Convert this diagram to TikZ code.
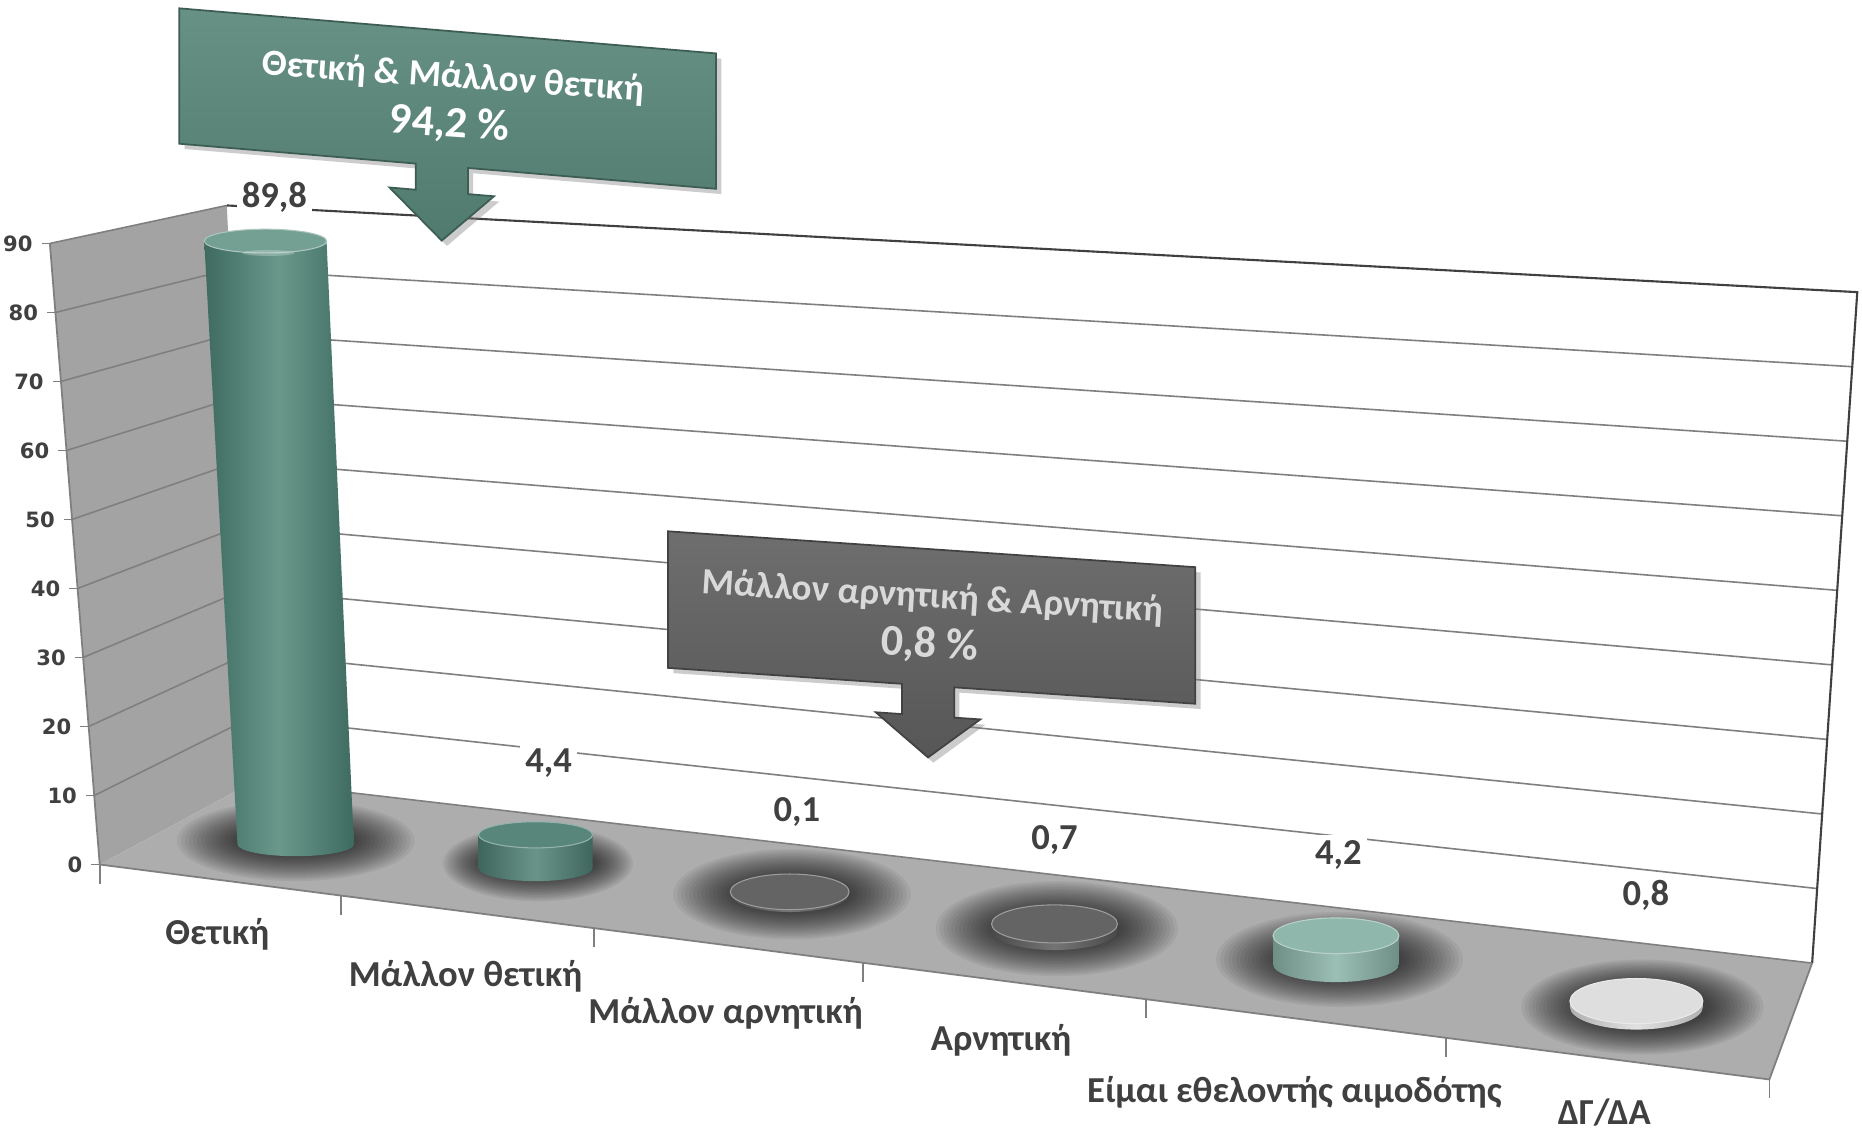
\documentclass[tikz,border=0pt]{standalone}
\usepackage{fontspec}
\setmainfont{Carlito}
\newfontfamily\axisfont{DejaVu Sans}
\usepackage{tikz}
\usetikzlibrary{calc,shadows}

\definecolor{tealmain}{HTML}{4F8074}
\definecolor{tealdark}{HTML}{3E6A5F}
\definecolor{teallight}{HTML}{6A998C}
\definecolor{tealtop}{HTML}{74A094}
\definecolor{mintmain}{HTML}{8AB3A8}
\definecolor{diskdark}{HTML}{5C5C5C}
\definecolor{disklight}{HTML}{DCDCDC}
\definecolor{wallgray}{HTML}{A3A3A3}
\definecolor{floorgray}{HTML}{ADADAD}
\definecolor{gridgray}{HTML}{7F7F7F}
\definecolor{labelgray}{HTML}{404040}
\definecolor{calloutteal}{HTML}{578578}
\definecolor{calloutgray}{HTML}{5E5E5E}
\definecolor{callouttext}{HTML}{D9D9D9}

\begin{document}
\begin{tikzpicture}[x=0.011875cm, y=-0.011875cm,
  gridln/.style={draw=gridgray, line width=0.45pt},
  axln/.style={draw=gridgray, line width=0.5pt},
  catlbl/.style={text=labelgray, font=\fontsize{10.4}{12}\selectfont\bfseries, inner sep=1pt},
  vallbl/.style={text=labelgray, font=\fontsize{10.4}{12}\selectfont\bfseries, fill=white, inner sep=1.5pt},
  axlbl/.style={text=labelgray, font=\axisfont\fontsize{6}{7}\selectfont\bfseries, anchor=east, inner sep=0pt},
  callbox/.style={line width=0.5pt, drop shadow={shadow xshift=1.5pt, shadow yshift=-1.5pt, opacity=0.4}},
  calltxt/.style={font=\fontsize{10.5}{11}\selectfont\bfseries, align=center, inner sep=0pt}]

\fill[white] (0,0) rectangle (1568,951);
\useasboundingbox (0,0) rectangle (1568,951);

% corners of the box
\coordinate (L0) at (84,728);
\coordinate (L9) at (42,205);
\coordinate (C0) at (214,658);
\coordinate (C9) at (191,173);
\coordinate (R0) at (1526,811);
\coordinate (R9) at (1564,246);
\coordinate (F6) at (1490,909);

% walls
\fill[wallgray] (L0) -- (L9) -- (C9) -- (C0) -- cycle;
\foreach \v in {10,20,...,80}
  \draw[gridln] ($(L0)!\v/90!(L9)$) -- ($(C0)!\v/90!(C9)$);
\draw[gridln] (L9) -- (C9);
\foreach \v in {10,20,...,80}
  \draw[gridln] ($(C0)!\v/90!(C9)$) -- ($(R0)!\v/90!(R9)$);
\draw[draw=labelgray, line width=0.6pt] (C9) -- (R9) -- (R0);

% floor and shadows
\fill[floorgray] (L0) -- (C0) -- (R0) -- (F6) -- cycle;
\draw[gridln] (C0) -- (R0);
\begin{scope}
  \clip (L0) -- (C0) -- (R0) -- (F6) -- cycle;
  \foreach \cx/\cy/\ox/\oy/\ix/\iy in {249/708/100/34/50/12, 453/727/80/32/48/12, 667/753/100/38/50/15, 890/782/102/40/53/16, 1128/808/104/40/53/16, 1383/848/102/40/56/19}
    \foreach \k in {0,...,15}
      \fill[black, opacity=0.055] (\cx,\cy) ellipse[x radius={\ix+(\ox-\ix)*\k/15}, y radius={\iy+(\oy-\iy)*\k/15}];
\end{scope}
\draw[axln] (L0) -- (F6) -- (R0);

% bars
\shade[left color=tealdark, right color=tealdark, middle color=teallight] (172,203) -- (200,711) arc[start angle=180, end angle=0, x radius=49, y radius=10] -- (275,203) -- cycle;
\fill[tealtop, draw=tealtop!60!white, line width=0.3pt] (223.5,203) ellipse[x radius=51.5, y radius=10];
\fill[white, opacity=0.25] (226,213) ellipse[x radius=22, y radius=2.5];
\foreach \cx/\ty/\by/\rx/\ry/\col in {451/703/731/48/11/tealmain, 665/751/753/50/15/diskdark, 888/778/784/53/16/diskdark, 1125/788/812/53/15/mintmain, 1378/843/848/56/19/disklight}
{
  \shade[left color=\col!80!black, right color=\col!80!black, middle color=\col!85!white]
    ({\cx-\rx},\ty) -- ({\cx-\rx},\by) arc[start angle=180, end angle=0, x radius=\rx, y radius=\ry] -- ({\cx+\rx},\ty) -- cycle;
  \fill[\col!95!white, draw=\col!60!white, line width=0.3pt] (\cx,\ty) ellipse[x radius=\rx, y radius=\ry];
}

% axes
\draw[axln] (L0) -- (L9);
\foreach \v in {0,10,...,90} {
  \draw[axln] ($(L0)!\v/90!(L9)$) -- ++(-7,0);
  \node[axlbl] (y\v) at ($(L0)!\v/90!(L9)+(-14,0)$) {\v};
}
\foreach \t in {0,0.1444,0.2959,0.4573,0.6266,0.8065,1}
  \draw[axln] ($(L0)!\t!(F6)$) -- ++(0,16);

\node[catlbl] (cat1) at (183,787) {Θετική};
\node[catlbl] (cat2) at (392,822) {Μάλλον θετική};
\node[catlbl] (cat3) at (611,853) {Μάλλον αρνητική};
\node[catlbl] (cat4) at (843,876) {Αρνητική};
\node[catlbl] (cat5) at (1090,920) {Είμαι εθελοντής αιμοδότης};
\node[catlbl] (cat6) at (1351,937) {ΔΓ/ΔΑ};

\node[vallbl] (val1) at (231,166) {89,8};
\node[vallbl] (val2) at (462,643) {4,4};
\node[vallbl] (val3) at (671,684) {0,1};
\node[vallbl] (val4) at (888,707) {0,7};
\node[vallbl] (val5) at (1127,720) {4,2};
\node[vallbl] (val6) at (1386,754) {0,8};

% callouts
\begin{scope}[shift={(377,83)}, yslant=-0.084]
  \shade[top color=calloutteal!90!white, bottom color=calloutteal!92!black, draw=calloutteal!70!black, callbox]
    (-226,-57) -- (226,-57) -- (226,57) -- (17,57) -- (17,79) -- (39,79) -- (-5,120)
    -- (-49,79) -- (-27,79) -- (-27,57) -- (-226,57) -- cycle;
\end{scope}
\node[calltxt, text=white, rotate=-4] (cl1) at (380,86)
  {Θετική \& Μάλλον θετική\\[3pt]{\fontsize{12.5}{13}\selectfont 94,2 \%}};

\begin{scope}[shift={(784.5,520)}, yslant=-0.068]
  \shade[top color=calloutgray!90!white, bottom color=calloutgray!92!black, draw=calloutgray!70!black, callbox]
    (-222,-57.5) -- (222,-57.5) -- (222,57.5) -- (19,57.5) -- (19,83) -- (41,83) -- (-3,118)
    -- (-47,83) -- (-25,83) -- (-25,57.5) -- (-222,57.5) -- cycle;
\end{scope}
\node[calltxt, text=callouttext, rotate=-3.5] (cl2) at (784,524)
  {Μάλλον αρνητική \& Αρνητική\\[3pt]{\fontsize{12.5}{13}\selectfont 0,8 \%}};

\end{tikzpicture}
\end{document}
